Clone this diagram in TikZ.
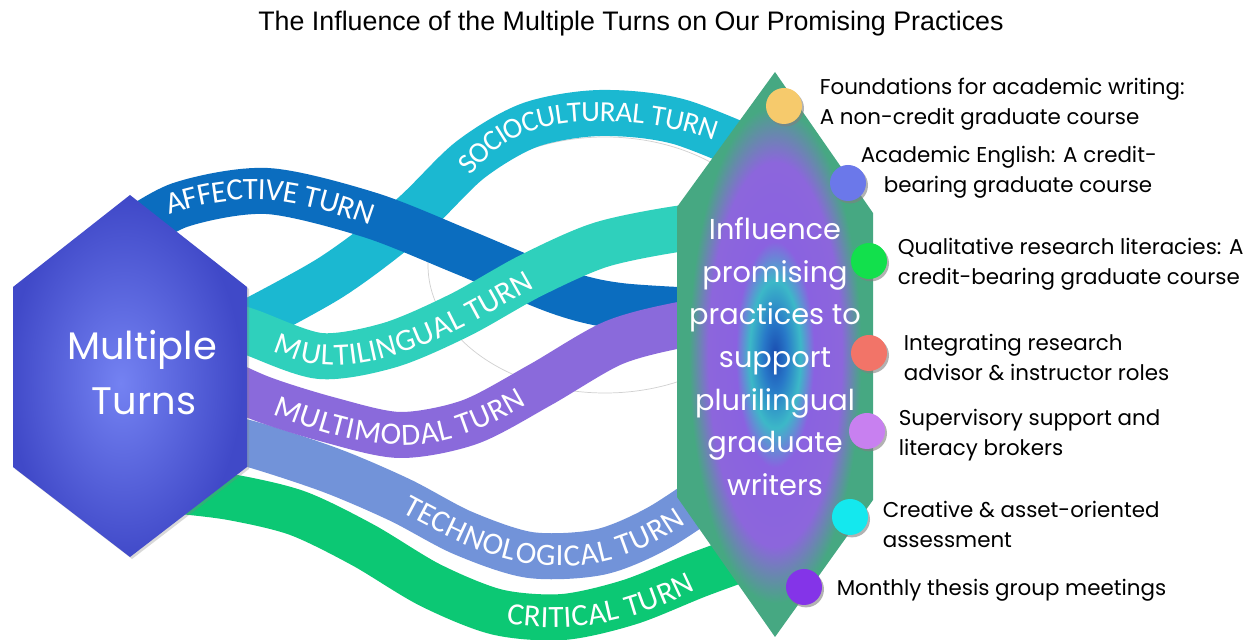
\documentclass[tikz,border=0pt]{standalone}
\usepackage{fontspec}
\setmainfont{Liberation Sans}
\newfontfamily\bandfont{Carlito}
\newfontfamily\labfont{Poppins}
\usetikzlibrary{decorations.text,shadows}
\definecolor{cAff}{HTML}{0B6DBF}
\definecolor{cSoc}{HTML}{1BB8D1}
\definecolor{cMling}{HTML}{2FD0BC}
\definecolor{cMmod}{HTML}{8A6ADB}
\definecolor{cTech}{HTML}{7293D9}
\definecolor{cCrit}{HTML}{0CC874}
\definecolor{iBlue}{HTML}{1A4CB0}
\definecolor{iBlue2}{HTML}{2878C8}
\definecolor{iCyan}{HTML}{3CB8C8}
\definecolor{iPurple}{HTML}{8A62E0}
\definecolor{iPurple2}{HTML}{8C66DC}
\definecolor{iGreen}{HTML}{46A882}
\definecolor{hLight}{HTML}{7482F2}
\definecolor{hDark}{HTML}{4049C8}
\definecolor{dYellow}{HTML}{F6CA6C}
\definecolor{dBlue}{HTML}{6B78EA}
\definecolor{dGreen}{HTML}{12E04C}
\definecolor{dSalmon}{HTML}{F27468}
\definecolor{dLilac}{HTML}{C880F0}
\definecolor{dCyan}{HTML}{14E8EE}
\definecolor{dViolet}{HTML}{8434E8}
\pgfdeclareradialshading{infshade}{\pgfpoint{0bp}{0bp}}{color(0bp)=(iBlue); color(3bp)=(iBlue2); color(6.5bp)=(iCyan); color(10bp)=(iPurple); color(17bp)=(iPurple2); color(22bp)=(iGreen); color(50bp)=(iGreen)}
\pgfdeclareradialshading{hexshade}{\pgfpoint{-2bp}{-1bp}}{color(0bp)=(hLight); color(25bp)=(hDark); color(50bp)=(hDark)}
\newcommand\bandtext{\bandfont\fontsize{7.75}{7.75}\selectfont}
\newcommand\bandtextsm{\bandfont\fontsize{7.3}{7.3}\selectfont}
\begin{document}
\begin{tikzpicture}[x=0.25pt,y=-0.25pt,
  band/.style={draw=#1, line width=11.5pt},
  bandlabel/.style={decorate, decoration={text along path, text={|\bandtext|#1}, text align=center, raise=-2.5pt, text color=white}},
  bandlabelsm/.style={decorate, decoration={text along path, text={|\bandtextsm|#1}, text align=center, raise=-2.4pt, text color=white}},
  lab/.style={font=\labfont\fontsize{5.35}{6}\selectfont, inner sep=0pt, anchor=base west, text=black},
  inftext/.style={font=\labfont\fontsize{7.2}{8}\selectfont, inner sep=0pt, anchor=base, text=white},
  pdot/.style={circle, fill=#1, minimum size=9pt, inner sep=0pt, drop shadow={shadow xshift=0.5pt, shadow yshift=-0.6pt, opacity=0.6}}]
\useasboundingbox (0,0) rectangle (1253,640);
\fill[white] (0,0) rectangle (1253,640);
% title
\node[font=\fontsize{6.7}{8}\selectfont, anchor=base, inner sep=0pt] (title) at (631,31) {The Influence of the Multiple Turns on Our Promising Practices};
% faint ellipse
\draw[black!18, line width=0.18pt] (605,265) ellipse [x radius=177, y radius=128];
% bands
\draw[band=cSoc] plot[smooth] coordinates {(225,335) (330,278) (410,218) (470,160) (530,125) (600,113) (680,122) (785,165)};
\draw[band=cAff] plot[smooth] coordinates {(120,240) (180,205) (267,191) (370,215) (463,252) (560,292) (620,306) (720,312)};
\draw[band=cCrit] plot[smooth] coordinates {(170,490) (230,497) (297,513) (363,545) (430,585) (497,612) (563,617) (630,602) (700,574) (780,545)};
\draw[band=cTech] plot[smooth] coordinates {(200,435) (247,443) (330,470) (400,500) (463,533) (530,555) (600,552) (660,527) (730,480)};
\draw[band=cMmod] plot[smooth] coordinates {(200,370) (260,398) (330,420) (400,435) (470,422) (540,385) (613,343) (680,325) (730,320)};
\draw[band=cMling] plot[smooth] coordinates {(215,320) (250,332) (320,356) (390,345) (460,315) (530,276) (600,245) (677,229) (730,225)};
% band labels
\path[bandlabelsm={SOCIOCULTURAL TURN}] (445,194) .. controls (480,140) and (520,115) .. (580,112) .. controls (640,110) and (700,120) .. (745,144);
\path[bandlabel={AFFECTIVE TURN}] (125,220) .. controls (185,196) and (220,188) .. (267,190) .. controls (320,195) and (370,214) .. (415,232);
\path[bandlabel={MULTILINGUAL TURN}] (245,329) .. controls (285,345) and (305,358) .. (345,355) .. controls (420,348) and (480,305) .. (560,262);
\path[bandlabel={MULTIMODAL TURN}] (235,388) .. controls (300,415) and (350,435) .. (405,435) .. controls (460,435) and (510,405) .. (560,372);
\path[bandlabel={TECHNOLOGICAL TURN}] (380,490) .. controls (440,520) and (490,555) .. (558,556) .. controls (620,557) and (665,528) .. (705,497);
\path[bandlabel={CRITICAL TURN}] (455,600) .. controls (500,615) and (540,620) .. (580,616) .. controls (640,610) and (690,583) .. (740,556);
% left hexagon
\shade[shading=hexshade, drop shadow={shadow xshift=0.5pt, shadow yshift=-0.5pt, opacity=0.3}] (130,195) -- (247,287) -- (247,467) -- (130,557) -- (13,467) -- (13,287) -- cycle;
\node[font=\labfont\fontsize{9.6}{10}\selectfont, text=white, anchor=base, inner sep=0pt] (mt1) at (142,360) {Multiple};
\node[font=\labfont\fontsize{9.6}{10}\selectfont, text=white, anchor=base, inner sep=0pt] (mt2) at (144,415) {Turns};
% right shape
\shade[shading=infshade] (775,72) -- (873,213) -- (873,500) -- (775,637) -- (677,497) -- (677,207) -- cycle;
\node[inftext] (in1) at (775,240) {Influence};
\node[inftext] (in2) at (775,283) {promising};
\node[inftext] (in3) at (775,325) {practices to};
\node[inftext] (in4) at (775,368) {support};
\node[inftext] (in5) at (775,411) {plurilingual};
\node[inftext] (in6) at (775,453) {graduate};
\node[inftext] (in7) at (775,496) {writers};
% dots
\node[pdot=dYellow] (d1) at (784,106) {};
\node[pdot=dBlue] (d2) at (848,183) {};
\node[pdot=dGreen] (d3) at (869,261) {};
\node[pdot=dSalmon] (d4) at (869,353) {};
\node[pdot=dLilac] (d5) at (867,431) {};
\node[pdot=dCyan] (d6) at (850,517) {};
\node[pdot=dViolet] (d7) at (804,587) {};
% labels
\node[lab] (l1a) at (819,95) {Foundations for academic writing:};
\node[lab] (l1b) at (819,125) {A non-credit graduate course};
\node[lab] (l2a) at (860,163) {Academic English: A credit-};
\node[lab] (l2b) at (883,193) {bearing graduate course};
\node[lab] (l3a) at (897,255) {Qualitative research literacies: A};
\node[lab] (l3b) at (897,285) {credit-bearing graduate course};
\node[lab] (l4a) at (903,351) {Integrating research};
\node[lab] (l4b) at (903,381) {advisor \& instructor roles};
\node[lab] (l5a) at (898,426) {Supervisory support and};
\node[lab] (l5b) at (898,456) {literacy brokers};
\node[lab] (l6a) at (882,518) {Creative \& asset-oriented};
\node[lab] (l6b) at (882,548) {assessment};
\node[lab] (l7a) at (836,596) {Monthly thesis group meetings};
\end{tikzpicture}
\end{document}
